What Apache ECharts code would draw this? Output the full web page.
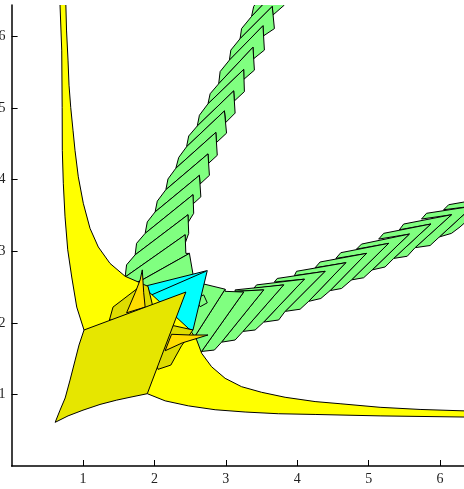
<!DOCTYPE html>
<html>
<head>
<meta charset="utf-8">
<style>html,body{margin:0;padding:0;background:#fff}#c{width:464px;height:489px}</style>
<script src="https://cdn.jsdelivr.net/npm/echarts@6/dist/echarts.min.js"></script>
</head>
<body>
<div id="c"></div>
<script>
const xTicks = [1,2,3,4,5,6];
const yTicks = [1,2,3,4,5,6];

// Upward green band
const upLow  = [[3.51,6.58],[3.36,6.28],[3.20,5.97],[3.05,5.67],[2.90,5.34],[2.75,5.06],[2.60,4.75],[2.45,4.46],[2.30,4.16],[2.16,3.86],[2.01,3.55],[1.87,3.25],[1.73,2.95],[1.59,2.64],[1.83,2.60]];
const upStep = [[3.53,6.74],[3.39,6.42],[3.22,6.11],[3.07,5.81],[2.92,5.51],[2.78,5.20],[2.63,4.90],[2.48,4.61],[2.34,4.31],[2.19,4.01],[2.04,3.70],[1.90,3.41],[1.75,3.11],[1.61,2.81],[1.59,2.50]];
const upApex = [[3.95,7.04],[3.80,6.74],[3.65,6.42],[3.52,6.15],[3.38,5.85],[3.25,5.54],[3.11,5.24],[2.98,4.96],[2.86,4.66],[2.75,4.36],[2.63,4.06],[2.54,3.79],[2.47,3.51],[2.43,3.23],[2.49,2.97]];
const upWall = [[3.97,6.74],[3.82,6.44],[3.68,6.11],[3.54,5.81],[3.40,5.53],[3.26,5.23],[3.13,4.93],[3.01,4.65],[2.88,4.34],[2.77,4.06],[2.65,3.76],[2.55,3.53],[2.48,3.25],[2.44,2.97],[2.54,2.68]];
const upNotch= [[3.81,6.60],[3.66,6.30],[3.53,6.01],[3.39,5.69],[3.25,5.40],[3.12,5.10],[3.00,4.80],[2.87,4.52],[2.76,4.23],[2.64,3.94],[2.54,3.66],[2.47,3.40],[2.43,3.11],[2.44,2.97]];
const upFoot = [[2.50,2.45],[1.83,2.45]];

// Rightward green band
const rightLow  = [[6.28,3.34],[5.99,3.20],[5.65,3.05],[5.35,2.90],[5.05,2.74],[4.76,2.60],[4.46,2.45],[4.16,2.30],[3.83,2.16],[3.53,2.01],[3.24,1.88],[2.94,1.73],[2.66,1.60],[2.45,1.63]];
const rightStep = [[6.46,3.38],[6.16,3.25],[5.86,3.08],[5.54,2.93],[5.23,2.78],[4.93,2.63],[4.62,2.48],[4.33,2.34],[4.04,2.19],[3.74,2.04],[3.41,1.90],[3.13,1.76],[2.84,1.62],[2.57,1.61]];
const rightApex = [[6.75,3.76],[6.46,3.63],[6.16,3.51],[5.87,3.38],[5.57,3.24],[5.28,3.11],[4.97,2.97],[4.68,2.84],[4.39,2.72],[4.10,2.61],[3.81,2.53],[3.53,2.46],[3.25,2.43],[2.99,2.47]];
const rightWall = [[6.12,3.65],[5.81,3.53],[5.49,3.38],[5.21,3.25],[4.90,3.10],[4.61,2.98],[4.32,2.85],[3.99,2.72],[3.72,2.62],[3.43,2.53],[3.13,2.46],[3.13,2.44],[2.99,2.44],[2.66,2.55]];
const rightNotch= [[6.05,3.58],[5.74,3.45],[5.43,3.30],[5.14,3.17],[4.83,3.03],[4.54,2.90],[4.25,2.77],[3.96,2.66],[3.68,2.57],[3.39,2.48],[3.13,2.44],[3.13,2.43],[2.99,2.47],[2.66,2.55]];
const rightFoot = [[2.40,2.20]];
const smallFold = [[2.57,2.34],[2.69,2.39],[2.74,2.28],[2.64,2.225]];

// Cyan fold
const cyanFace = [[1.90,2.52],[2.74,2.73],[2.54,1.90],[2.27,1.96],[1.97,2.28]];
const cyanCrease = [[1.96,2.39],[2.72,2.72]];

// Yellow star
const yellowStar = [[0.676,6.65],[0.678,6.44],[0.702,5.81],[0.708,5.01],[0.710,4.41],[0.724,3.95],[0.748,3.48],[0.786,3.02],[0.842,2.64],[0.912,2.22],[1.014,1.90],[1.90,1.01],[2.15,0.91],[2.475,0.84],[2.85,0.786],[3.27,0.754],[3.735,0.73],[4.25,0.72],[5.16,0.70],[6.34,0.684],[6.60,0.68],[6.60,0.76],[6.34,0.77],[5.72,0.79],[5.16,0.82],[4.60,0.87],[4.25,0.90],[3.83,0.96],[3.50,1.03],[3.22,1.108],[2.99,1.225],[2.80,1.387],[2.662,1.574],[2.592,1.76],[2.50,1.90],[1.775,2.57],[1.59,2.65],[1.378,2.83],[1.214,3.06],[1.098,3.32],[1.004,3.67],[0.934,4.04],[0.888,4.41],[0.86,4.69],[0.828,5.01],[0.804,5.32],[0.79,5.67],[0.769,6.09],[0.76,6.44],[0.755,6.65]];

// Darker yellow back pieces
const backLeft  = [[1.37,2.04],[1.42,2.22],[1.84,2.54],[1.91,2.51],[1.97,2.26],[1.91,2.18],[1.66,2.04]];
const backRight = [[2.27,1.96],[2.54,1.90],[2.38,1.68],[2.23,1.41],[2.05,1.35],[1.94,1.76]];

// Gold spikes
const spikeUp    = [[1.83,2.74],[1.85,2.42],[1.87,2.22],[1.61,2.14],[1.73,2.42],[1.80,2.60]];
const spikeRight = [[2.24,1.84],[2.50,1.83],[2.75,1.83],[2.39,1.72],[2.15,1.61]];

// Front sheet
const frontSheet = [[1.014,1.90],[2.44,2.43],[1.90,1.01],[1.658,0.96],[1.47,0.92],[1.238,0.86],[1.00,0.78],[0.79,0.70],[0.61,0.61],[0.678,0.78],[0.75,0.95],[0.818,1.20],[0.89,1.48],[0.944,1.69]];

const GREEN='#80ff80', YELLOW='#ffff00', CYAN='#00ffff', GOLD='#ffdd00', BACK='#dedc00', FRONT='#e6e600';
const shapes = [];
function bandInto(low, step, apex, wall, notch, foot){
  for(let i=0;i<low.length-1;i++){
    shapes.push({pts:[low[i],apex[i],wall[i],notch[i],apex[i+1],low[i+1],step[i+1]],fill:GREEN});
  }
  const n=low.length-1;
  shapes.push({pts:[low[n],apex[n],wall[n]].concat(foot),fill:GREEN});
}
bandInto(upLow,upStep,upApex,upWall,upNotch,upFoot);
bandInto(rightLow,rightStep,rightApex,rightWall,rightNotch,rightFoot);
shapes.push({pts:smallFold,fill:GREEN});
shapes.push({pts:cyanFace,fill:CYAN});
shapes.push({pts:cyanCrease,fill:null});
shapes.push({pts:yellowStar,fill:YELLOW});
shapes.push({pts:backLeft,fill:BACK});
shapes.push({pts:backRight,fill:BACK});
shapes.push({pts:spikeUp,fill:GOLD});
shapes.push({pts:spikeRight,fill:GOLD});
shapes.push({pts:frontSheet,fill:FRONT});

const chart = echarts.init(document.getElementById('c'),null,{renderer:'canvas'});
const axisCommon = {
  type:'value',
  splitLine:{show:false},
  axisLine:{show:true,onZero:false,lineStyle:{color:'#000',width:1.5}},
  axisLabel:{color:'#222',fontFamily:'"Liberation Serif"',fontSize:14},
  axisTick:{show:true,inside:true,length:6,lineStyle:{color:'#000',width:1}}
};
chart.setOption({
  animation:false,
  backgroundColor:'#fff',
  grid:{left:11.6,right:0,top:5,bottom:23,containLabel:false,outerBoundsMode:'none'},
  xAxis:Object.assign({},axisCommon,{min:0,max:6.335,
    axisLabel:Object.assign({},axisCommon.axisLabel,{margin:6,customValues:xTicks}),
    axisTick:Object.assign({},axisCommon.axisTick,{customValues:xTicks})}),
  yAxis:Object.assign({},axisCommon,{min:0,max:6.44,
    axisLabel:Object.assign({},axisCommon.axisLabel,{margin:6,customValues:yTicks}),
    axisTick:Object.assign({},axisCommon.axisTick,{customValues:yTicks})}),
  series:[{
    type:'custom',
    coordinateSystem:'cartesian2d',
    clip:true,
    silent:true,
    data:shapes.map((s,i)=>[i]),
    encode:{x:[],y:[]},
    renderItem:function(params,api){
      const s=shapes[params.dataIndex];
      const points=s.pts.map(p=>api.coord(p));
      if(!s.fill){
        return {type:'polyline',shape:{points},style:{fill:null,stroke:'#000',lineWidth:1}};
      }
      return {type:'polygon',shape:{points},style:{fill:s.fill,stroke:'#000',lineWidth:1}};
    }
  }]
});
</script>
</body>
</html>
